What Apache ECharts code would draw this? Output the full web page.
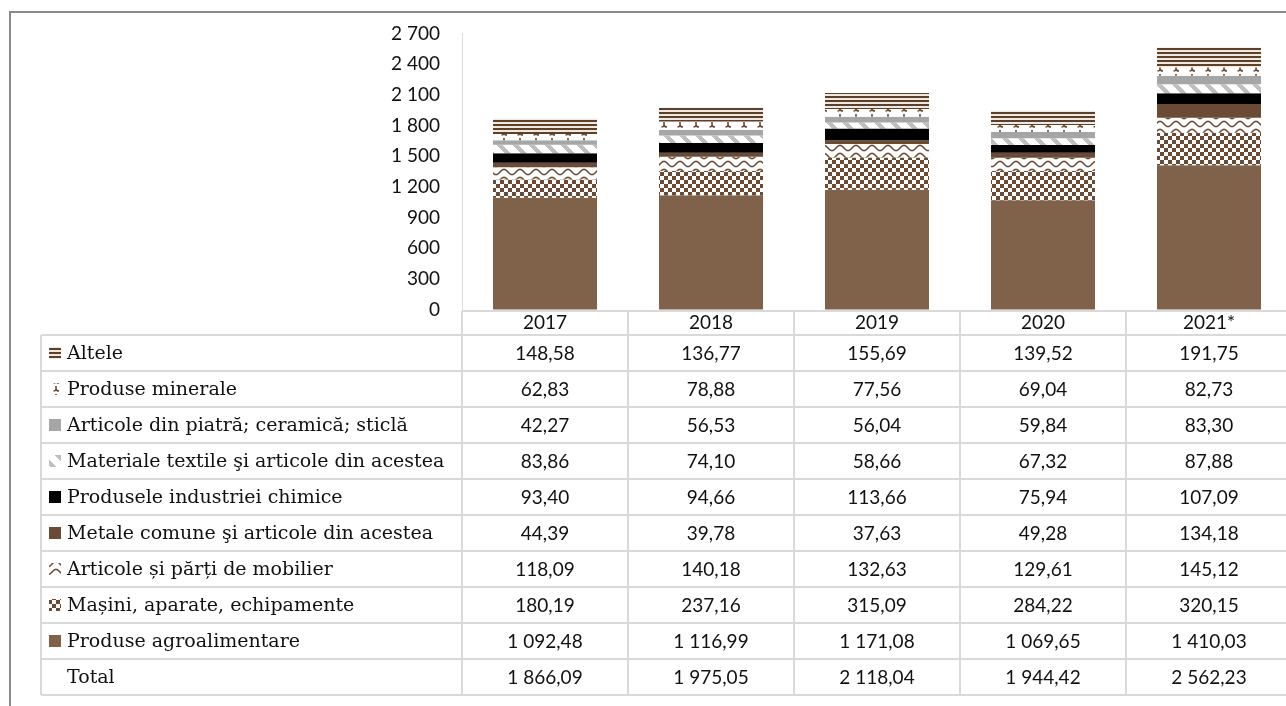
<!DOCTYPE html>
<html><head><meta charset="utf-8">
<script src="https://cdn.jsdelivr.net/npm/echarts@6/dist/echarts.min.js"></script>
<style>html,body{margin:0;padding:0;background:#fff;overflow:hidden}#c{width:1300px;height:706px}</style>
</head><body><div id="c"></div>
<script>
// ---- data (values in mil. USD) ----
const categories = ['2017', '2018', '2019', '2020', '2021*'];
const agro     = [1092.48, 1116.99, 1171.08, 1069.65, 1410.03];
const masini   = [180.19, 237.16, 315.09, 284.22, 320.15];
const mobilier = [118.09, 140.18, 132.63, 129.61, 145.12];
const metale   = [44.39, 39.78, 37.63, 49.28, 134.18];
const chimice  = [93.40, 94.66, 113.66, 75.94, 107.09];
const textile  = [83.86, 74.10, 58.66, 67.32, 87.88];
const piatra   = [42.27, 56.53, 56.04, 59.84, 83.30];
const minerale = [62.83, 78.88, 77.56, 69.04, 82.73];
const altele   = [148.58, 136.77, 155.69, 139.52, 191.75];
const totals   = [1866.09, 1975.05, 2118.04, 1944.42, 2562.23];
const yMin = 0, yMax = 2700, yStep = 300;

const names = {
  agro: 'Produse agroalimentare',
  masini: 'Mașini, aparate, echipamente',
  mobilier: 'Articole și părți de mobilier',
  metale: 'Metale comune şi articole din acestea',
  chimice: 'Produsele industriei chimice',
  textile: 'Materiale textile şi articole din acestea',
  piatra: 'Articole din piatră; ceramică; sticlă',
  minerale: 'Produse minerale',
  altele: 'Altele'
};

// ---- patterns ----
const BROWN = '#6b4a33';
function tile(w, h, draw) {
  const c = document.createElement('canvas'); c.width = w; c.height = h;
  const g = c.getContext('2d'); draw(g, w, h); return c;
}
const patChecker = tile(8, 8, (g) => {
  g.fillStyle = '#fff'; g.fillRect(0, 0, 8, 8);
  g.fillStyle = BROWN; g.fillRect(0, 0, 4, 4); g.fillRect(4, 4, 4, 4);
});
const patWave = tile(16, 8, (g) => {
  g.fillStyle = '#fff'; g.fillRect(0, 0, 16, 8);
  g.strokeStyle = BROWN; g.lineWidth = 1.6; g.beginPath();
  for (let x = 0; x <= 16; x += 0.5) {
    const y = 4 + 2.6 * Math.cos(2 * Math.PI * x / 16);
    if (x === 0) g.moveTo(x, y); else g.lineTo(x, y);
  }
  g.stroke();
});
const patDiag = tile(16, 16, (g) => {
  g.fillStyle = '#fff'; g.fillRect(0, 0, 16, 16);
  g.fillStyle = '#bfbfbf';
  for (let y = 0; y < 16; y++) for (let x = 0; x < 16; x++) {
    if ((((x - y) % 16) + 16) % 16 < 6) g.fillRect(x, y, 1, 1);
  }
});
const patHook = tile(16, 8, (g) => {
  g.fillStyle = '#fff'; g.fillRect(0, 0, 16, 8);
  g.strokeStyle = BROWN; g.lineWidth = 1.6; g.beginPath();
  g.moveTo(8, 2); g.lineTo(8, 5); g.quadraticCurveTo(8, 7, 5.5, 7);
  g.moveTo(8, 5); g.quadraticCurveTo(8.5, 7, 11, 7);
  g.stroke();
});
const patStripe = tile(4, 4, (g) => {
  g.fillStyle = '#efe9e3'; g.fillRect(0, 0, 4, 4);
  g.fillStyle = '#5e3f27'; g.fillRect(0, 0, 4, 2);
});
const pat = (c) => ({ image: c, repeat: 'repeat' });

const styles = {
  agro: '#7f6249',
  masini: pat(patChecker),
  mobilier: pat(patWave),
  metale: '#6b4b35',
  chimice: '#000000',
  textile: pat(patDiag),
  piatra: '#a6a6a6',
  minerale: pat(patHook),
  altele: pat(patStripe)
};

const stackOrder = [
  ['agro', agro], ['masini', masini], ['mobilier', mobilier], ['metale', metale],
  ['chimice', chimice], ['textile', textile], ['piatra', piatra],
  ['minerale', minerale], ['altele', altele]
];
const tableOrder = ['altele', 'minerale', 'piatra', 'textile', 'chimice', 'metale', 'mobilier', 'masini', 'agro'];
const dataByKey = Object.fromEntries(stackOrder);

function fmt(v, dec) {
  const s = v.toFixed(dec);
  let [i, d] = s.split('.');
  i = i.replace(/\B(?=(\d{3})+(?!\d))/g, ' ');
  return d !== undefined ? i + ',' + d : i;
}

const NUMFONT = 'Lato, "Open Sans", sans-serif';
const SERIF = '"DejaVu Serif", "Liberation Serif", serif';

const chart = echarts.init(document.getElementById('c'), null, { renderer: 'canvas' });
chart.setOption({
  animation: false,
  backgroundColor: '#fff',
  grid: { left: 462, right: 8, top: 33.5, bottom: 396.5, containLabel: false },
  xAxis: {
    type: 'category', data: categories,
    axisLine: { show: false }, axisTick: { show: false },
    axisLabel: { fontFamily: NUMFONT, fontSize: 19, color: '#111', margin: 4 }
  },
  yAxis: {
    type: 'value', min: yMin, max: yMax, interval: yStep,
    axisLine: { show: true, lineStyle: { color: '#dcdcdc', width: 1 } },
    axisTick: { show: false }, splitLine: { show: false },
    axisLabel: { fontFamily: NUMFONT, fontSize: 19, color: '#111', margin: 22,
      formatter: (v) => fmt(v, 0) }
  },
  series: stackOrder.map(([k, arr]) => ({
    name: names[k], type: 'bar', stack: 'total', data: arr, barWidth: 104,
    itemStyle: { color: styles[k] }
  }))
});

// ---- data table below the plot ----
const c0 = chart.convertToPixel({ xAxisIndex: 0 }, categories[0]);
const c1 = chart.convertToPixel({ xAxisIndex: 0 }, categories[1]);
const band = c1 - c0;
const colLeft = c0 - band / 2;
const RIGHT = 1300;
const TABLE_LEFT = 41, HEAD_TOP = 311, ROW0 = 335, ROWH = 36;
const nRows = tableOrder.length + 1;
const lineStyle = { stroke: '#d9d9d9', lineWidth: 2 };
const g = [];
g.push({ type: 'rect', silent: true, shape: { x: 10, y: 12, width: 1310, height: 720 },
  style: { fill: 'none', stroke: '#8a8a8a', lineWidth: 2 } });
g.push({ type: 'line', silent: true, shape: { x1: colLeft, y1: HEAD_TOP, x2: RIGHT, y2: HEAD_TOP }, style: lineStyle });
for (let k = 0; k <= nRows; k++) {
  const y = ROW0 + k * ROWH;
  g.push({ type: 'line', silent: true, shape: { x1: TABLE_LEFT, y1: y, x2: RIGHT, y2: y }, style: lineStyle });
}
g.push({ type: 'line', silent: true, shape: { x1: TABLE_LEFT, y1: ROW0, x2: TABLE_LEFT, y2: ROW0 + nRows * ROWH }, style: lineStyle });
for (let k = 0; k <= categories.length; k++) {
  const x = colLeft + k * band;
  g.push({ type: 'line', silent: true, shape: { x1: x, y1: HEAD_TOP, x2: x, y2: ROW0 + nRows * ROWH }, style: lineStyle });
}
tableOrder.concat(['total']).forEach((key, r) => {
  const yc = ROW0 + r * ROWH + ROWH / 2;
  const label = key === 'total' ? 'Total' : names[key];
  if (key !== 'total') {
    g.push({ type: 'rect', silent: true, shape: { x: 49, y: yc - 6, width: 12, height: 12 },
      style: { fill: styles[key] } });
  }
  g.push({ type: 'text', silent: true, x: 67, y: yc + 1,
    style: { text: label, font: '19px ' + SERIF, fill: '#111', verticalAlign: 'middle', align: 'left' } });
  const vals = key === 'total' ? totals : dataByKey[key];
  vals.forEach((v, i) => {
    const xc = chart.convertToPixel({ xAxisIndex: 0 }, categories[i]);
    g.push({ type: 'text', silent: true, x: xc, y: yc + 1,
      style: { text: fmt(v, 2), font: '19px ' + NUMFONT, fill: '#111', verticalAlign: 'middle', align: 'center' } });
  });
});
chart.setOption({ graphic: g });
</script></body></html>
